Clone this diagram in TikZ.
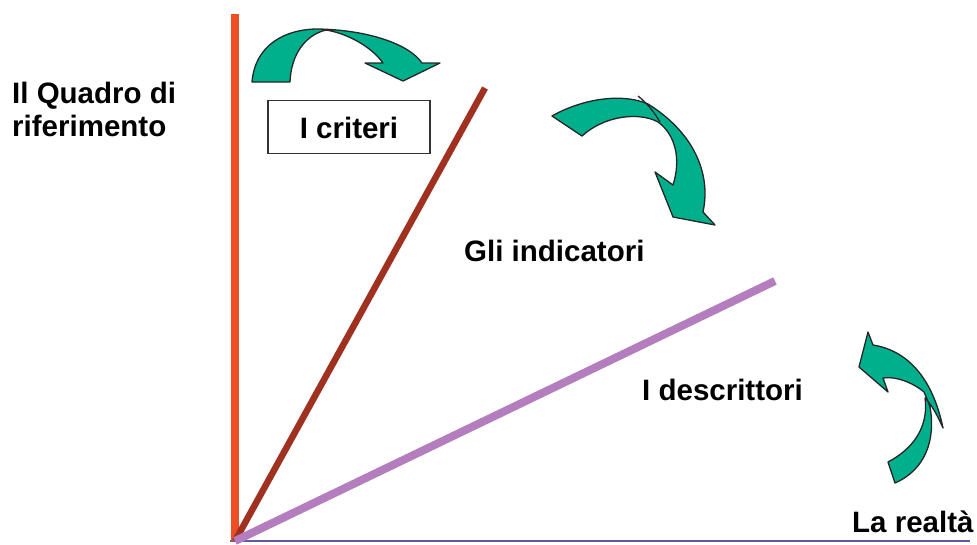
\documentclass[tikz,border=0pt]{standalone}
\usepackage{fontspec}
\setmainfont{Liberation Sans}
\definecolor{axorange}{RGB}{238,78,38}
\definecolor{axbrown}{RGB}{160,48,31}
\definecolor{axpurple}{RGB}{180,126,190}
\definecolor{axbase}{RGB}{100,88,165}
\definecolor{arrteal}{RGB}{0,176,140}
\begin{document}
\begin{tikzpicture}[x=1pt,y=-1pt,
  lbl/.style={font=\fontsize{29.5}{33}\selectfont\bfseries, inner sep=0pt, text=black},
  bigarrow/.style={fill=arrteal, draw=black!85, line width=1.3pt, line join=round},
  boxed/.style={draw=black!80, line width=1.3pt, minimum width=162pt, minimum height=53pt, inner sep=0pt}]
\useasboundingbox (0,0) rectangle (977,544);
% axes
\coordinate (O) at (235,541);
\coordinate (Vtop) at (235,14);
\coordinate (Btop) at (485,88);
\coordinate (Ptop) at (775,281);
\coordinate (Bl) at (230,541);
\coordinate (Br) at (970,541);
\draw[axbase, line width=1.2pt] (Bl) -- (Br);
\draw[axorange, line width=8pt] (O) -- (Vtop);
\draw[axbrown, line width=6.5pt] (O) -- (Btop);
\draw[axpurple, line width=8pt] (O) -- (Ptop);
% labels
\node[lbl, anchor=base west] (q1) at (12,103) {Il Quadro di};
\node[lbl, anchor=base west] (q2) at (12,136) {riferimento};
\node[boxed] (crit) at (349,127) {};
\node[lbl, anchor=base] (critt) at (349,138) {I criteri};
\node[lbl, anchor=base west] (ind) at (464,261) {Gli indicatori};
\node[lbl, anchor=base west] (desc) at (642,400) {I descrittori};
\node[lbl, anchor=base west] (real) at (852,532) {La realtà};
% arrow 1 (top)
\draw[bigarrow] (252,82) .. controls (255,45) and (285,29) .. (318,29)
  .. controls (370,30) and (410,45) .. (422,63) -- (440,63) -- (403,81) -- (365,63) -- (383,63)
  .. controls (370,45) and (345,33) .. (326,30)
  .. controls (305,35) and (291,55) .. (290,82) -- cycle;
% arrow 2 (middle)
\draw[bigarrow] (552,116) .. controls (580,100) and (620,92) .. (648,104)
  .. controls (690,130) and (712,170) .. (703,212) -- (715,225) -- (673,217) -- (655,172) -- (673,185)
  .. controls (681,160) and (676,135) .. (658,122)
  .. controls (640,112) and (605,115) .. (582,136) -- cycle;
\draw[black!85, line width=1.3pt] (638,96) .. controls (648,104) and (654,112) .. (660,122);
% arrow 3 (right)
\draw[bigarrow] (895,483) .. controls (925,470) and (936,440) .. (930,407)
  .. controls (927,398) and (925,395) .. (924,392)
  .. controls (912,382) and (895,376) .. (883,378) -- (888,392) -- (859,367) -- (868,332) -- (873,345)
  .. controls (905,350) and (932,375) .. (943,428)
  .. controls (936,412) and (930,403) .. (925,398)
  .. controls (928,420) and (920,445) .. (888,462) -- cycle;
\end{tikzpicture}
\end{document}
